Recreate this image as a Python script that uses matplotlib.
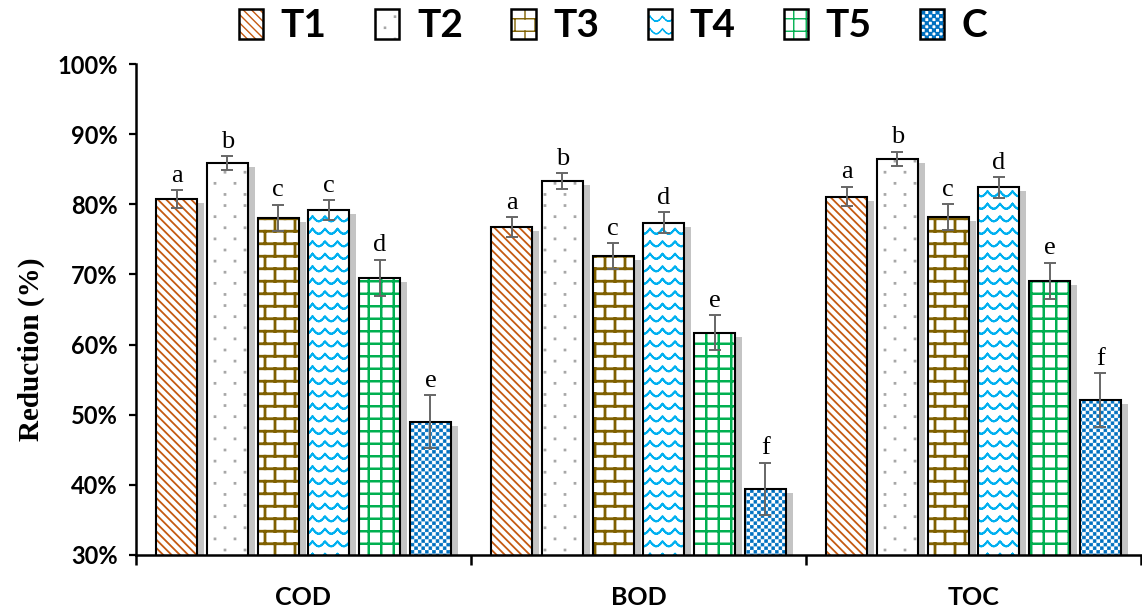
import warnings
import numpy as np
import matplotlib
matplotlib.use("Agg")
import matplotlib.pyplot as plt
import matplotlib.hatch as mhatch
from matplotlib.path import Path
from matplotlib.patches import Patch
from matplotlib.transforms import ScaledTranslation
from matplotlib.ticker import FixedLocator, FuncFormatter

warnings.filterwarnings("ignore")

# ---- data ----
categories = ["COD", "BOD", "TOC"]
treatments = ["T1", "T2", "T3", "T4", "T5", "C"]

t1_vals = [80.7, 76.8, 81.1]
t2_vals = [85.9, 83.3, 86.5]
t3_vals = [78.1, 72.6, 78.2]
t4_vals = [79.2, 77.4, 82.4]
t5_vals = [69.5, 61.7, 69.1]
c_vals = [49.0, 39.4, 52.1]

t1_err = [1.3, 1.4, 1.4]
t2_err = [1.0, 1.1, 1.0]
t3_err = [1.85, 1.85, 1.85]
t4_err = [1.4, 1.5, 1.45]
t5_err = [2.6, 2.5, 2.6]
c_err = [3.8, 3.75, 3.8]

t1_letters = ["a", "a", "a"]
t2_letters = ["b", "b", "b"]
t3_letters = ["c", "c", "c"]
t4_letters = ["c", "d", "d"]
t5_letters = ["d", "e", "e"]
c_letters = ["e", "f", "f"]

values = [t1_vals, t2_vals, t3_vals, t4_vals, t5_vals, c_vals]
errors = [t1_err, t2_err, t3_err, t4_err, t5_err, c_err]
letters = [t1_letters, t2_letters, t3_letters, t4_letters, t5_letters, c_letters]

# ---- styles ----
hatch_colors = ["#C55A11", "#A6A6A6", "#7F6000", "#00B0F0", "#00B050", "#0070C0"]
hatches = ["s", "d", "b", "w", "g", "k"]
hatch_lws = [1.3, 1.1, 2.0, 1.4, 1.8, 0.5]


# ---- custom hatch patterns ----
def _segments(lines):
    arr = np.asarray(lines, float).reshape(-1, 2)
    codes = np.tile([Path.MOVETO, Path.LINETO], len(arr) // 2)
    return arr, codes


def _squares(rects):
    verts, codes = [], []
    for x0, y0, x1, y1 in rects:
        verts += [(x0, y0), (x1, y0), (x1, y1), (x0, y1), (x0, y0)]
        codes += [Path.MOVETO, Path.LINETO, Path.LINETO, Path.LINETO, Path.CLOSEPOLY]
    return np.asarray(verts, float), np.asarray(codes, Path.code_type)


def stripes():
    n = 12
    lines = [(s, 1, s + 1, 0) for s in np.arange(-n, n) / n]
    return _segments(lines)


def brick():
    rows, cols = 8, 5
    h, w = 1 / rows, 1 / cols
    lines = []
    for r in range(rows):
        y = (r + 0.5) * h
        lines.append((0, y, 1, y))
        off = w * (0.25 if r % 2 == 0 else 0.75)
        for c in range(cols):
            xx = c * w + off
            y1 = y + h
            if y1 <= 1:
                lines.append((xx, y, xx, y1))
            else:
                lines.append((xx, y, xx, 1))
                lines.append((xx, 0, xx, y1 - 1))
    return _segments(lines)


def wave():
    rows, cycles, amp = 8, 8, 0.025
    lines = []
    xs = np.linspace(0, 1, 129)
    for r in range(rows):
        y0 = (r + 0.5) / rows
        ys = y0 + amp * (1 - 2 * np.abs(np.sin(np.pi * cycles * xs)))
        for i in range(len(xs) - 1):
            if i % 3 == 2:
                continue
            lines.append((xs[i], ys[i], xs[i + 1], ys[i + 1]))
    return _segments(lines)


def dots():
    rows, cols, s = 9, 5, 0.006
    rects = []
    for r in range(rows):
        y = (r + 0.5) / rows
        off = 0.25 if r % 2 == 0 else 0.75
        for c in range(cols):
            xx = (c + off) / cols
            rects.append((xx - s, y - s, xx + s, y + s))
    return _squares(rects)


def grid():
    n = 8
    lines = []
    for i in range(n):
        p = (i + 0.5) / n
        lines.append((0, p, 1, p))
        lines.append((p, 0, p, 1))
    return _segments(lines)


def checker():
    n, inset = 28, 0.004
    s = 1 / n
    rects = []
    for i in range(n):
        for j in range(n):
            if (i + j) % 2 == 0:
                rects.append((i * s + inset, j * s + inset,
                              (i + 1) * s - inset, (j + 1) * s - inset))
    return _squares(rects)


class CustomHatch(mhatch.HatchPatternBase):
    makers = {"s": stripes, "b": brick, "w": wave, "d": dots, "g": grid, "k": checker}

    def __init__(self, hatch, density):
        vs, cs = [], []
        for ch, fn in self.makers.items():
            if ch in hatch:
                v, c = fn()
                vs.append(v)
                cs.append(c)
        if vs:
            self.v = np.concatenate(vs)
            self.c = np.concatenate(cs)
        else:
            self.v = np.empty((0, 2))
            self.c = np.empty(0, Path.code_type)
        self.num_vertices = len(self.v)

    def set_vertices_and_codes(self, vertices, codes):
        vertices[:] = self.v
        codes[:] = self.c


mhatch._hatch_types.append(CustomHatch)


def set_hatch_lw(patch, lw):
    if hasattr(patch, "set_hatch_linewidth"):
        patch.set_hatch_linewidth(lw)


# ---- figure ----
fig = plt.figure(figsize=(11.42, 6.12), dpi=100)
ax = fig.add_axes([136 / 1142, 57 / 612, 1005 / 1142, 491 / 612])

x = np.arange(len(categories))
step = 0.1516
width = 0.122
shadow = ScaledTranslation(7 / 100, -4 / 100, fig.dpi_scale_trans)

legend_handles = []
for i, name in enumerate(treatments):
    xi = x + (i - 2.5) * step
    vals = values[i]

    # soft shadow to the right of every bar
    sh = ax.bar(xi, vals, width, color="#C4C4C4", linewidth=0, zorder=1)
    for p in sh:
        p.set_transform(ax.transData + shadow)

    with plt.rc_context({"hatch.linewidth": hatch_lws[i]}):
        hb = ax.bar(xi, vals, width, facecolor="white", edgecolor=hatch_colors[i],
                    linewidth=0, hatch=hatches[i], zorder=2)
        for p in hb:
            set_hatch_lw(p, hatch_lws[i])
        hp = Patch(facecolor="white", edgecolor=hatch_colors[i], linewidth=0,
                   hatch=hatches[i])
        set_hatch_lw(hp, hatch_lws[i])
    ax.bar(xi, vals, width, fill=False, edgecolor="black", linewidth=1.5, zorder=3)
    op = Patch(fill=False, edgecolor="black", linewidth=1.8)
    legend_handles.append((hp, op))

    ax.errorbar(xi, vals, yerr=errors[i], fmt="none", ecolor="#666666",
                elinewidth=1.4, capsize=4.5, capthick=1.4, zorder=4)

    for xv, v, e, lab in zip(xi, vals, errors[i], letters[i]):
        ax.annotate(lab, (xv, v + e), xytext=(0, 6), textcoords="offset points",
                    ha="center", va="baseline", fontsize=19,
                    family="Liberation Serif", zorder=5)

# ---- axes styling ----
ax.set_xlim(-0.5, 2.5)
ax.set_ylim(30, 100)
ax.set_yticks(np.arange(30, 101, 10))
ax.yaxis.set_major_formatter(FuncFormatter(lambda v, _: f"{v:.0f}%"))

ax.xaxis.set_major_locator(FixedLocator([-0.5, 0.5, 1.5, 2.5]))
ax.xaxis.set_minor_locator(FixedLocator(x))
ax.set_xticklabels([], minor=False)
ax.set_xticklabels(categories, minor=True)
ax.tick_params(axis="x", which="major", direction="out", length=7, width=1.8)
ax.tick_params(axis="x", which="minor", length=0, pad=22)
ax.tick_params(axis="y", direction="out", length=5, width=1.6, pad=8)

for lab in ax.get_yticklabels():
    lab.set_fontfamily("Lato")
    lab.set_fontweight("bold")
    lab.set_fontsize(17)
for lab in ax.get_xticklabels(minor=True):
    lab.set_fontfamily("Lato")
    lab.set_fontweight("bold")
    lab.set_fontsize(18)

for side in ["top", "right"]:
    ax.spines[side].set_visible(False)
for side in ["left", "bottom"]:
    ax.spines[side].set_linewidth(1.8)

ax.set_ylabel("Reduction (%)", fontsize=21, fontweight="bold",
              family="Liberation Serif")
ax.yaxis.set_label_coords(-0.091, 0.42)

fig.legend(legend_handles, treatments, loc="center", ncol=6,
           bbox_to_anchor=(0.537, 0.958), frameon=False,
           prop={"family": "Lato", "weight": "bold", "size": 28},
           handlelength=0.62, handleheight=0.8, handletextpad=0.45,
           columnspacing=1.25, borderpad=0.1)

fig.savefig("out.png", dpi=100)
